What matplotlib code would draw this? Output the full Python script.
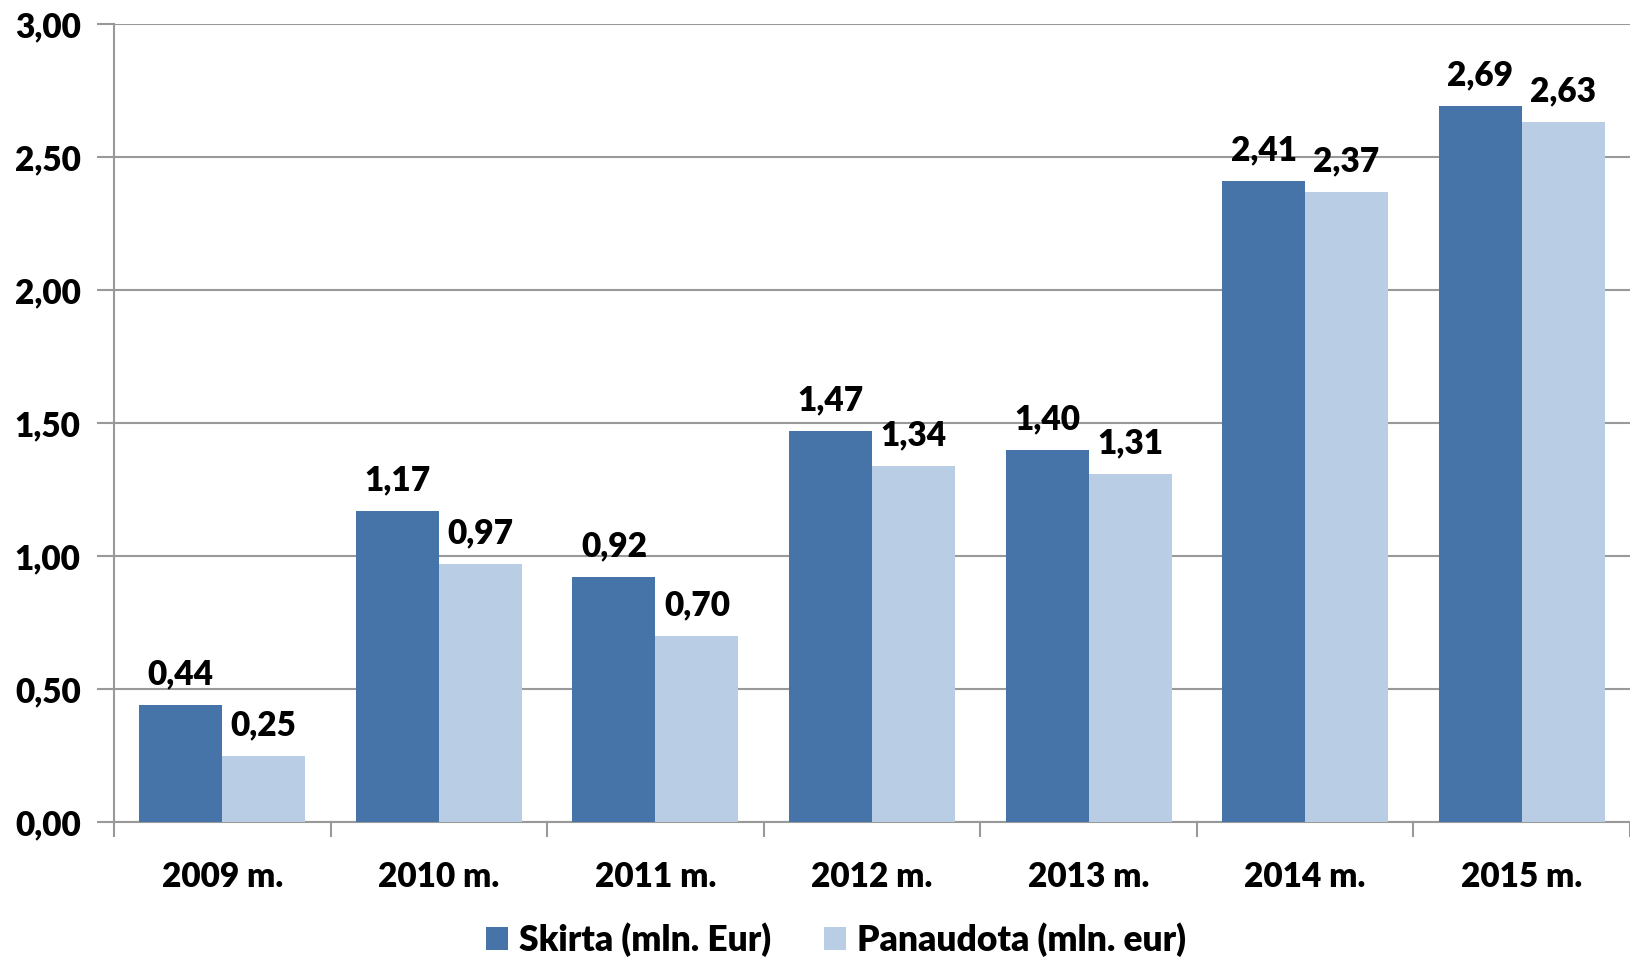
import numpy as np
import matplotlib
matplotlib.use('Agg')
from matplotlib import pyplot as plt
from matplotlib.ticker import FixedLocator

years = ['2009 m.', '2010 m.', '2011 m.', '2012 m.', '2013 m.', '2014 m.', '2015 m.']
skirta = [0.44, 1.17, 0.92, 1.47, 1.40, 2.41, 2.69]
panaudota = [0.25, 0.97, 0.70, 1.34, 1.31, 2.37, 2.63]
series_names = ['Skirta (mln. Eur)', 'Panaudota (mln. eur)']
colors = ['#4673A8', '#B9CDE5']
y_ticks = [0.0, 0.5, 1.0, 1.5, 2.0, 2.5, 3.0]


def fmt(v):
    return f"{v:.2f}".replace('.', ',')


plt.rcParams['font.family'] = ['Lato', 'DejaVu Sans']
FS = 24
WT = 'heavy'

fig = plt.figure(figsize=(16.3, 9.58), dpi=100)
ax = fig.add_axes([114 / 1630, 1 - 822 / 958, 1516 / 1630, 798 / 958])

x = np.arange(len(years))
w = 0.383
b1 = ax.bar(x - w / 2, skirta, w, color=colors[0], label=series_names[0], zorder=3)
b2 = ax.bar(x + w / 2, panaudota, w, color=colors[1], label=series_names[1], zorder=3)

for bars, vals in ((b1, skirta), (b2, panaudota)):
    for r, v in zip(bars, vals):
        ax.text(r.get_x() + r.get_width() / 2, v + 0.055, fmt(v), ha='center', va='bottom',
                fontsize=FS, fontweight=WT)

ax.set_xlim(-0.5, len(years) - 0.5)
ax.set_ylim(0, 3.0)
ax.set_yticks(y_ticks)
ax.set_yticklabels([fmt(v) for v in y_ticks], fontsize=FS, fontweight=WT)
ax.set_xticks(x)
ax.set_xticklabels(years, fontsize=FS, fontweight=WT)
ax.xaxis.set_minor_locator(FixedLocator(np.arange(-0.5, len(years), 1.0)))
ax.tick_params(axis='x', which='major', length=0, pad=28)
ax.tick_params(axis='x', which='minor', length=11, width=1.5, color='#999999')
ax.tick_params(axis='y', length=12, width=1.5, color='#999999', pad=12)

ax.grid(axis='y', color='#999999', linewidth=1.5, zorder=0)
for s in ('top', 'right'):
    ax.spines[s].set_visible(False)
for s in ('left', 'bottom'):
    ax.spines[s].set_color('#999999')
    ax.spines[s].set_linewidth(1.5)

fig.legend(handles=[b1, b2], labels=series_names, loc='center', bbox_to_anchor=(0.513, 1 - 940 / 958),
           ncol=2, frameon=False, handlelength=0.62, handleheight=0.62,
           handletextpad=0.3, columnspacing=1.5, prop={'weight': WT, 'size': 25.5})

fig.savefig('out.png', dpi=100)
